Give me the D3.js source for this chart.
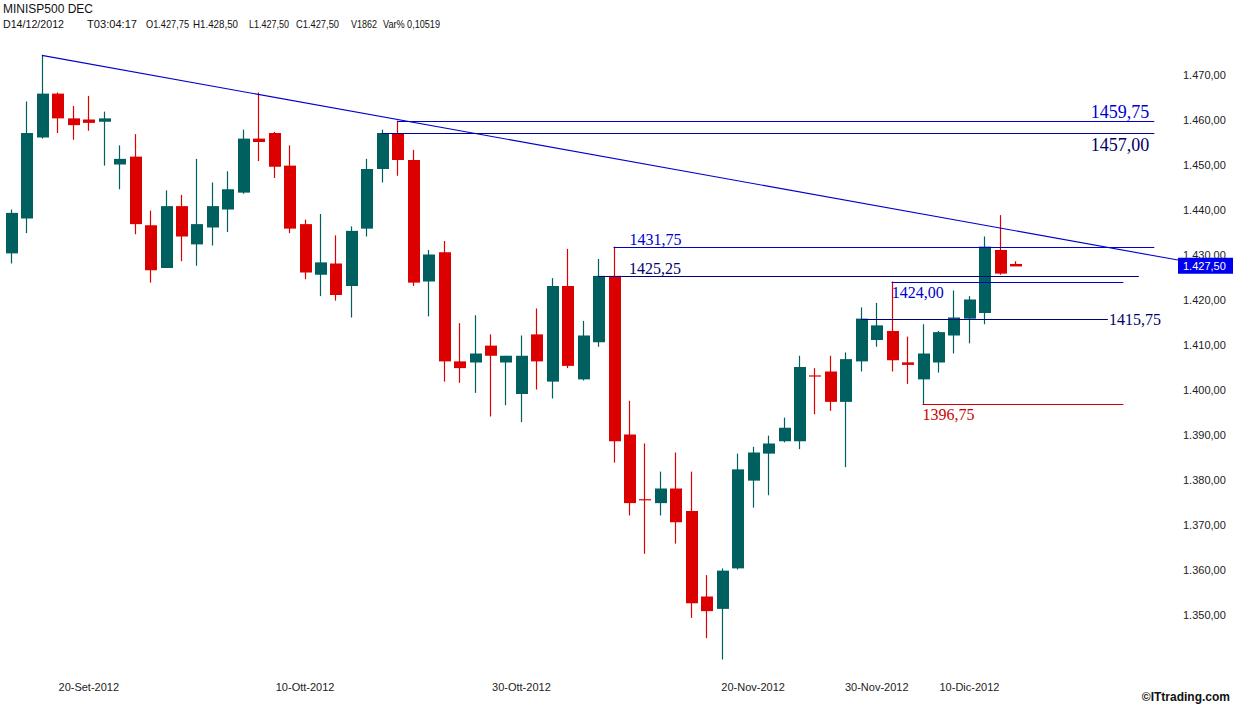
<!DOCTYPE html>
<html>
<head>
<meta charset="utf-8">
<script src="https://cdn.jsdelivr.net/npm/d3@7"></script>
<style>
  body { margin: 0; background: #fff; }
  svg { display: block; }
</style>
</head>
<body>
<div id="container"></div>
<script>
// ---- data ----
const dates = [
  '2012-09-14', '2012-09-17', '2012-09-18', '2012-09-19', '2012-09-20', '2012-09-21',
  '2012-09-24', '2012-09-25', '2012-09-26', '2012-09-27', '2012-09-28',
  '2012-10-01', '2012-10-02', '2012-10-03', '2012-10-04', '2012-10-05',
  '2012-10-08', '2012-10-09', '2012-10-10', '2012-10-11', '2012-10-12',
  '2012-10-15', '2012-10-16', '2012-10-17', '2012-10-18', '2012-10-19',
  '2012-10-22', '2012-10-23', '2012-10-24', '2012-10-25', '2012-10-26',
  '2012-10-29', '2012-10-30', '2012-10-31', '2012-11-01', '2012-11-02',
  '2012-11-05', '2012-11-06', '2012-11-07', '2012-11-08', '2012-11-09',
  '2012-11-12', '2012-11-13', '2012-11-14', '2012-11-15', '2012-11-16',
  '2012-11-19', '2012-11-20', '2012-11-21', '2012-11-22', '2012-11-23',
  '2012-11-26', '2012-11-27', '2012-11-28', '2012-11-29', '2012-11-30',
  '2012-12-03', '2012-12-04', '2012-12-05', '2012-12-06', '2012-12-07',
  '2012-12-10', '2012-12-11', '2012-12-12', '2012-12-13', '2012-12-14'
];

const opens = [
  1430.25, 1438, 1456, 1465.75, 1460.25, 1460, 1459.5, 1450, 1451.75, 1436.5,
  1427, 1440.75, 1432.25, 1436, 1440, 1443.75, 1455.75, 1457, 1449.75, 1436.75,
  1425.5, 1428, 1423, 1435.75, 1449, 1457, 1451, 1424, 1430.5, 1406.25,
  1406, 1409.75, 1406, 1399, 1412.25, 1401.75, 1423, 1402.25, 1410.5, 1425.25,
  1390, 1375.5, 1374.75, 1378, 1373, 1354, 1351.25, 1360.25, 1379.75, 1385.75,
  1388.5, 1388.5, 1403, 1404, 1397.25, 1406.25, 1411, 1413, 1406, 1402.25,
  1406, 1412, 1415.75, 1417, 1431, 1427.75
];
const highs = [
  1440, 1464, 1474.25, 1466, 1463, 1465.25, 1461.75, 1454.25, 1456.75, 1439.75,
  1444.25, 1443.25, 1451.25, 1446, 1448.5, 1457.75, 1466, 1457.25, 1454.25, 1437.75,
  1439, 1434.25, 1436.25, 1451.25, 1457.75, 1459.75, 1453.25, 1431, 1433, 1414.75,
  1416.5, 1412.25, 1407.5, 1412, 1418, 1424.75, 1431.25, 1415.25, 1429, 1431.75,
  1397.5, 1388, 1381.75, 1386, 1381.75, 1358.75, 1360.25, 1385.75, 1387.25, 1389.75,
  1393.75, 1407.5, 1404.75, 1407.5, 1408.25, 1418.25, 1419.25, 1424, 1411.75, 1414.5,
  1413, 1422, 1420.75, 1434, 1438.75, 1428.5
];
const lows = [
  1428, 1434.75, 1455.75, 1457, 1455.5, 1457.5, 1449.75, 1444.5, 1434.5, 1423.75,
  1427, 1428.5, 1427.5, 1432, 1435, 1443.5, 1450.75, 1447, 1434.75, 1424.5,
  1420.75, 1419.75, 1416, 1434, 1446, 1447.5, 1423, 1416.25, 1401.75, 1401.5,
  1399.25, 1394, 1396.5, 1392.75, 1400, 1398, 1404.75, 1402, 1409.5, 1383.75,
  1372, 1363.5, 1372, 1365.75, 1349.25, 1344.75, 1340, 1360, 1373.75, 1376.5,
  1388.25, 1386.75, 1394.5, 1395.25, 1382.75, 1404, 1409.5, 1404, 1401.25, 1396.75,
  1403.75, 1408, 1410.25, 1414.5, 1425.5, 1427.5
];
const closes = [
  1439.25, 1457, 1465.75, 1460.25, 1458.75, 1459.25, 1460.25, 1451.25, 1436.75, 1426.5,
  1440.75, 1434, 1436.75, 1440.75, 1444.5, 1455.75, 1455, 1449.5, 1435.75, 1426,
  1428.25, 1421, 1435.25, 1449, 1457, 1451, 1423.75, 1430, 1406.25, 1404.75,
  1408, 1407.5, 1407.5, 1407.5, 1406.25, 1423, 1405.25, 1412, 1425.25, 1388.5,
  1374.75, 1375.5, 1378, 1370.5, 1352.5, 1350.75, 1359.75, 1382.25, 1386, 1388,
  1391.5, 1405, 1403, 1397.25, 1406.75, 1415.75, 1414.25, 1406.5, 1405.5, 1408,
  1412.75, 1416, 1420, 1431.75, 1425.75, 1427.5
];

// support / resistance levels: value, first and last candle index
const levelValues = [1459.75, 1457.00, 1431.75, 1425.25, 1424.00, 1415.75, 1396.75];
const levelFrom = [25, 24, 39, 38, 57, 55, 59];
const levelTo = [74, 74, 74, 73, 72, 71, 72];

// trendline through the highs
const trendIdx = [2, 64];
const trendVal = [1474.25, 1435.9];

const priceTicks = [1350, 1360, 1370, 1380, 1390, 1400, 1410, 1420, 1430, 1440, 1450, 1460, 1470];
const dateTicks = ['2012-09-20', '2012-10-10', '2012-10-30', '2012-11-20', '2012-11-30', '2012-12-10'];
const dateTickLabels = ['20-Set-2012', '10-Ott-2012', '30-Ott-2012', '20-Nov-2012', '30-Nov-2012', '10-Dic-2012'];
const lastPrice = 1427.5;

const headerTitle = 'MINISP500 DEC';
const headerFields = ['D14/12/2012', 'T03:04:17', 'O1.427,75', 'H1.428,50', 'L1.427,50', 'C1.427,50', 'V1862', 'Var% 0,10519'];

// ---- drawing ----
const width = 1233, height = 704;
const green = '#005f5f', red = '#dc0000';

const it = d3.formatLocale({decimal: ',', thousands: '.', grouping: [3], currency: ['€', '']});
const priceFmt = it.format(',.2f');
const levelFmt = it.format('.2f');

const svg = d3.select('#container')
  .append('svg')
  .attr('width', width)
  .attr('height', height)
  .style('background', '#fff');

// 1. scales
const xScale = d3.scaleLinear().domain([0, dates.length - 1]).range([11, 1015.25]);
const yScale = d3.scaleLinear().domain([1350, 1470]).range([614.5, 74.5]);
const px = v => Math.round(v) + 0.5;

// 2. header
svg.append('text')
  .attr('x', 3).attr('y', 13)
  .attr('font-family', 'Liberation Sans, Arial, sans-serif')
  .attr('font-size', 12)
  .attr('fill', '#111')
  .text(headerTitle);

// x start and width of each header field
const headerX = [3, 87, 146, 193, 249, 296, 351, 383];
const headerW = [61, 50, 43, 45, 40, 43, 26, 57];
svg.selectAll('.hdr')
  .data(headerFields)
  .enter()
  .append('text')
  .attr('class', 'hdr')
  .attr('x', (d, i) => headerX[i])
  .attr('y', 28)
  .attr('font-family', 'Liberation Sans, Arial, sans-serif')
  .attr('font-size', 11)
  .attr('textLength', (d, i) => headerW[i])
  .attr('lengthAdjust', 'spacingAndGlyphs')
  .attr('fill', '#111')
  .text(d => d);

// 3. price axis
const yAxis = d3.axisRight(yScale)
  .tickValues(priceTicks)
  .tickSize(0)
  .tickPadding(3)
  .tickFormat(priceFmt);

const axisG = svg.append('g')
  .attr('transform', 'translate(1180,0)')
  .call(yAxis);
axisG.select('.domain').remove();
axisG.selectAll('text')
  .attr('font-family', 'Liberation Sans, Arial, sans-serif')
  .attr('font-size', 11)
  .attr('fill', '#222');

// 4. date labels
svg.selectAll('.dlab')
  .data(dateTicks)
  .enter()
  .append('text')
  .attr('class', 'dlab')
  .attr('x', d => xScale(dates.indexOf(d)) + 16)
  .attr('y', 691)
  .attr('text-anchor', 'middle')
  .attr('font-family', 'Liberation Sans, Arial, sans-serif')
  .attr('font-size', 11)
  .attr('fill', '#222')
  .text((d, i) => dateTickLabels[i]);

// 5. candles
const candles = dates.map((d, i) => ({
  date: d, i, o: opens[i], h: highs[i], l: lows[i], c: closes[i]
}));
const colorOf = d => (d.c > d.o ? green : red);

const cg = svg.append('g');
cg.selectAll('.wick')
  .data(candles)
  .enter()
  .append('line')
  .attr('x1', d => px(xScale(d.i)))
  .attr('x2', d => px(xScale(d.i)))
  .attr('y1', d => yScale(d.h))
  .attr('y2', d => yScale(d.l))
  .attr('stroke', colorOf)
  .attr('stroke-width', 1.2);

cg.selectAll('.body')
  .data(candles)
  .enter()
  .append('rect')
  .attr('x', d => Math.round(xScale(d.i)) - 5)
  .attr('width', 12)
  .attr('y', d => {
    const top = yScale(Math.max(d.o, d.c));
    const hgt = yScale(Math.min(d.o, d.c)) - top;
    if (d.o === d.c) return top - 0.6;
    return hgt < 2.5 ? top - (2.5 - hgt) / 2 : top;
  })
  .attr('height', d => {
    if (d.o === d.c) return 1.2;
    return Math.max(yScale(Math.min(d.o, d.c)) - yScale(Math.max(d.o, d.c)), 2.5);
  })
  .attr('fill', colorOf);

// 6. trendline
const slope = (trendVal[1] - trendVal[0]) / (trendIdx[1] - trendIdx[0]);
const endIdx = xScale.invert(1178);
svg.append('line')
  .attr('x1', xScale(trendIdx[0]))
  .attr('y1', yScale(trendVal[0]))
  .attr('x2', xScale(endIdx))
  .attr('y2', yScale(trendVal[0] + slope * (endIdx - trendIdx[0])))
  .attr('stroke', '#0000cc')
  .attr('stroke-width', 1.1);

// 7. levels
const levelColor = ['#0000cc', '#000099', '#0000cc', '#000080', '#0000cc', '#000080', '#cc0000'];
const labelColor = ['#0000cc', '#000066', '#0000cc', '#000066', '#0000cc', '#000066', '#cc0000'];
const labelSize = [18, 18, 16, 16, 16, 16, 16];
// label placement: [anchor, x from (start|end), dx, dy]
const labelPos = [
  ['end', 'to', -5, -4],
  ['end', 'to', -5, 17],
  ['start', 'from', 16, -3],
  ['start', 'from', 31, -3],
  ['start', 'from', 0, 15],
  ['start', 'to', 1, 5],
  ['start', 'from', 0, 15]
];

levelValues.forEach((v, i) => {
  const ly = px(yScale(v));
  svg.append('line')
    .attr('x1', xScale(levelFrom[i]))
    .attr('x2', xScale(levelTo[i]))
    .attr('y1', ly)
    .attr('y2', ly)
    .attr('stroke', levelColor[i])
    .attr('stroke-width', 1);

  const [anchor, side, dx, dy] = labelPos[i];
  const baseX = xScale(side === 'to' ? levelTo[i] : levelFrom[i]);
  svg.append('text')
    .attr('x', baseX + dx)
    .attr('y', ly + dy)
    .attr('text-anchor', anchor)
    .attr('font-family', 'Liberation Serif, Times New Roman, serif')
    .attr('font-size', labelSize[i])
    .attr('fill', labelColor[i])
    .text(levelFmt(v));
});

// 8. last price marker
const lpY = yScale(lastPrice);
svg.append('rect')
  .attr('x', 1178)
  .attr('y', lpY - 8)
  .attr('width', 55)
  .attr('height', 16)
  .attr('fill', '#0000ee');
svg.append('text')
  .attr('x', 1183)
  .attr('y', lpY + 4)
  .attr('font-family', 'Liberation Sans, Arial, sans-serif')
  .attr('font-size', 11)
  .attr('fill', '#fff')
  .text(priceFmt(lastPrice));

// 9. copyright
svg.append('text')
  .attr('x', 1230)
  .attr('y', 701)
  .attr('text-anchor', 'end')
  .attr('font-family', 'Liberation Sans Narrow, Arial Narrow, sans-serif')
  .attr('font-weight', 'bold')
  .attr('font-size', 12)
  .attr('fill', '#111')
  .text('©ITtrading.com');
</script>
</body>
</html>
